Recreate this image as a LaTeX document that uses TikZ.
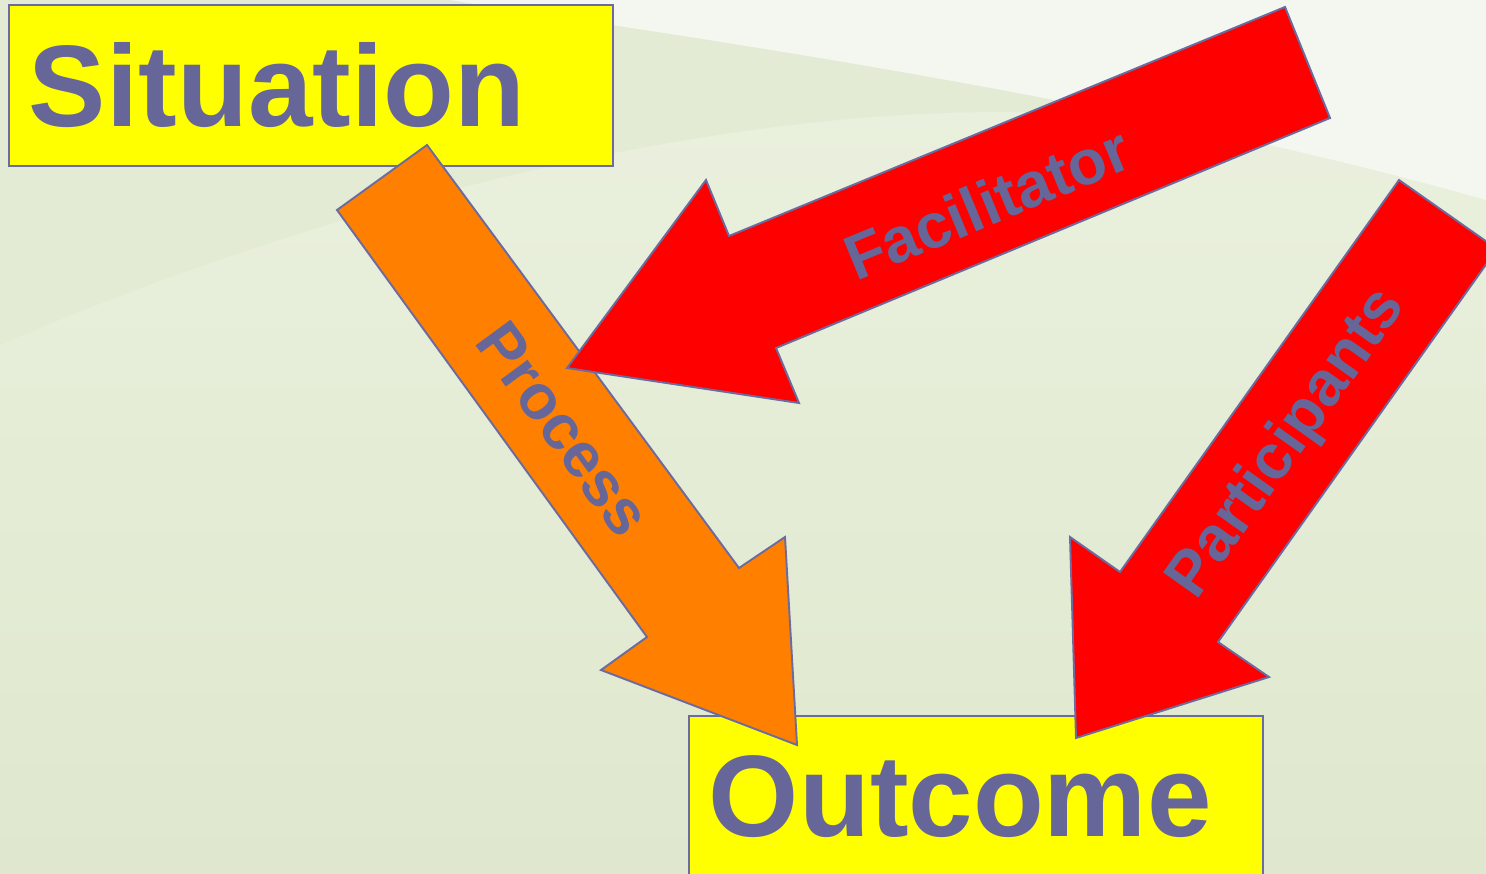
\documentclass[tikz,border=0pt]{standalone}
\usepackage{fontspec}
\setmainfont{Liberation Sans}
\definecolor{slate}{HTML}{666699}
\definecolor{edge}{HTML}{6B6BA0}
\definecolor{boxyellow}{HTML}{FFFF00}
\definecolor{procorange}{HTML}{FF8000}
\definecolor{arrowred}{HTML}{FF0000}
\definecolor{bgtop}{HTML}{EBF1DF}
\definecolor{bgbot}{HTML}{DFE8CE}
\definecolor{bgwave}{HTML}{E3EBD4}
\definecolor{bgwhite}{HTML}{F4F7EF}

\begin{document}
\begin{tikzpicture}[x=0.02cm, y=-0.02cm,
    box/.style={draw=edge, line width=1.1pt, fill=boxyellow, anchor=north west,
      minimum height=3.22cm, inner xsep=0.4cm, inner ysep=0pt, align=left,
      font=\fontsize{66}{66}\selectfont\bfseries, text=slate},
    blockarrow/.style={draw=edge, line width=1.1pt, line join=miter},
    tag/.style={font=\fontsize{36}{36}\selectfont\bfseries, text=slate}]
    \clip (0,0) rectangle (1486,873);

    % Background
    \fill[top color=bgtop, bottom color=bgbot] (0,0) rectangle (1486,873);
    \fill[bgwave] (0,0) -- (0,345) .. controls (250,235) and (650,112) .. (1000,112)
      .. controls (1250,112) and (1400,125) .. (1486,135) -- (1486,0) -- cycle;
    \fill[bgwhite] (450,0) .. controls (600,25) and (1100,90) .. (1486,200)
      -- (1486,0) -- cycle;

    % Boxes
    \node[box, text width=11.28cm] (situation) at (8,4) {Situation};
    \node[box, text width=10.68cm] (outcome) at (688,715) {Outcome};

    % Arrows
    \draw[blockarrow, fill=procorange] (337,210) -- (427,145) -- (739,568) -- (785,537)
      -- (797,745) -- (601,670) -- (647,637) -- cycle;
    \draw[blockarrow, fill=arrowred] (1285,7) -- (1330,118) -- (776,348) -- (799,403)
      -- (567,368) -- (706,180) -- (729,236) -- cycle;
    \draw[blockarrow, fill=arrowred] (1399,180) -- (1497,249) -- (1218,642) -- (1269,677)
      -- (1076,738) -- (1070,537) -- (1120,572) -- cycle;

    % Labels
    \node[tag, rotate=-53.7] (process) at (564,429) {Process};
    \node[tag, rotate=22.5] (facilitator) at (987,203) {Facilitator};
    \node[tag, rotate=54.6] (participants) at (1288,444) {Participants};
\end{tikzpicture}
\end{document}
